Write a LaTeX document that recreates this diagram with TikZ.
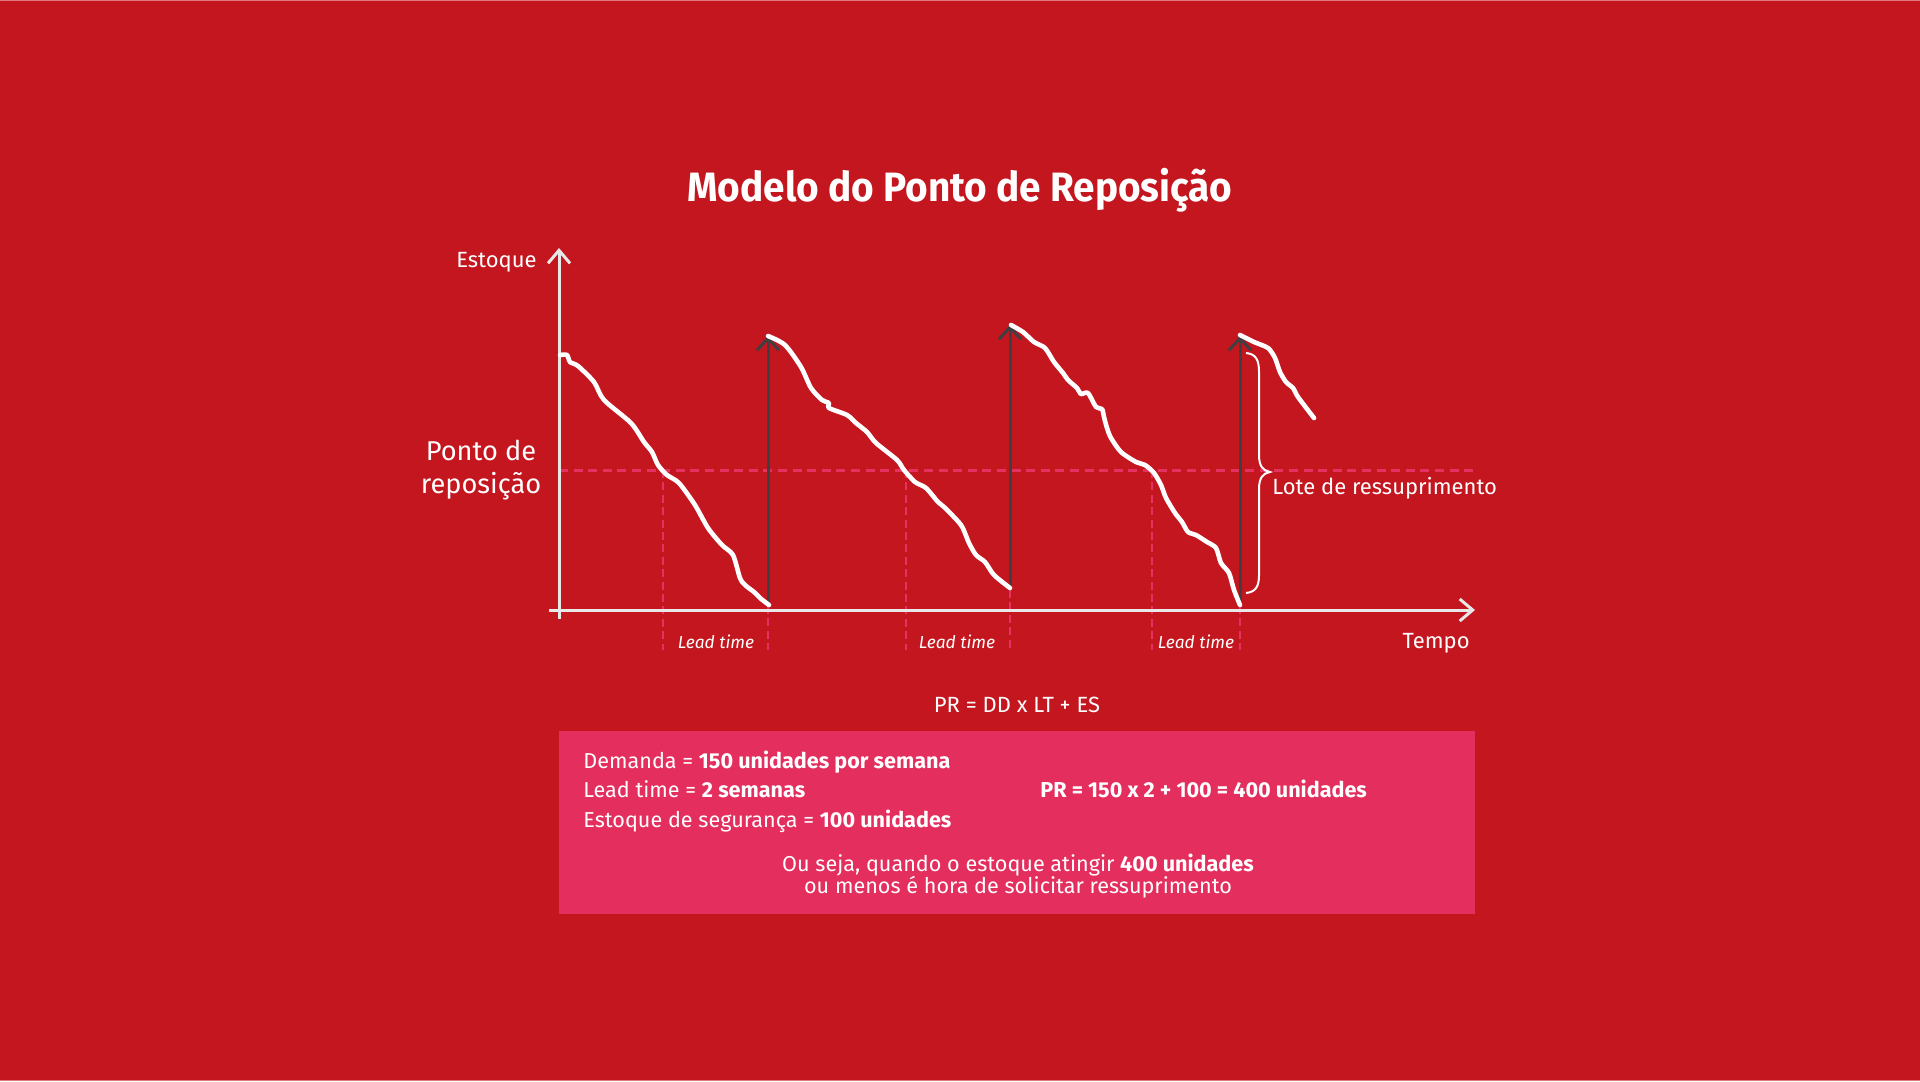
\documentclass[tikz,border=0pt]{standalone}
\usepackage{fontspec}
\setmainfont{Fira Sans}
\usetikzlibrary{arrows.meta}
\definecolor{bgc}{RGB}{196,22,30}
\definecolor{boxc}{RGB}{227,46,94}
\definecolor{dashc}{RGB}{228,50,96}
\definecolor{axisc}{RGB}{232,232,232}
\definecolor{darkc}{RGB}{64,62,64}
\definecolor{edgec}{RGB}{222,120,124}
\tikzset{
  axisline/.style={draw=axisc, line width=1.5pt, -{Straight Barb[length=6.5pt,width=11pt]}},
  supply/.style={draw=darkc, line width=1.5pt, -{Straight Barb[length=6pt,width=11pt]}},
  stockline/.style={draw=white, line width=2.3pt, line cap=round, line join=round},
  reorder/.style={draw=dashc, line width=1.5pt, dash pattern=on 4.5pt off 2.8pt},
  leadline/.style={draw=dashc, line width=1.3pt, dash pattern=on 4pt off 2.2pt},
  lbl/.style={text=white, inner sep=0pt, font=\fontsize{11}{13}\selectfont},
  leadlbl/.style={text=white, inner sep=0pt, font=\fontsize{8.7}{10}\selectfont\itshape},
  boxtxt/.style={text=white, inner sep=0pt, font=\fontsize{10.8}{12}\selectfont},
}
\begin{document}
\begin{tikzpicture}[x=0.5pt,y=-0.5pt]
\fill[bgc] (0,0) rectangle (1920,1081);
\useasboundingbox (0,0) rectangle (1920,1081);
\draw[edgec, line width=0.6pt] (0,0.6) -- (1920,0.6);
\draw[edgec, line width=0.6pt] (0,1080.4) -- (1920,1080.4);

% title
\node[text=white, inner sep=0pt, anchor=base, font=\fontsize{20.5}{24}\selectfont\bfseries] (title) at (960,201) {\scalebox{0.945}[1]{Modelo do Ponto de Reposição}};

% coordinates
\coordinate (origin) at (559,610);
\coordinate (ytop) at (559,248);
\coordinate (ybot) at (559,619);
\coordinate (xleft) at (549,610);
\coordinate (xright) at (1475,610);
\coordinate (rpL) at (559,470);
\coordinate (rpR) at (1476,470);

% reorder point line
\draw[reorder] (rpL) -- (rpR);
% lead time verticals
\foreach \xx/\yy in {663/470, 768/606, 906/470, 1010/590, 1152/470, 1240/606}{
  \draw[leadline] (\xx,\yy) -- (\xx,650);
}

% axes
\draw[axisline] (ybot) -- (ytop);
\draw[axisline] (xleft) -- (xright);

% supply arrows
\coordinate (s1b) at (768,605);
\coordinate (s1t) at (768,336);
\coordinate (s2b) at (1010,588);
\coordinate (s2t) at (1010,325);
\coordinate (s3b) at (1240,604);
\coordinate (s3t) at (1240,336);
\draw[supply] (s1b) -- (s1t);
\draw[supply] (s2b) -- (s2t);
\draw[supply] (s3b) -- (s3t);

% stock curves
\draw[stockline] plot[smooth, tension=0.45] coordinates {
 (560,355) (567,355) (570,362) (578,366) (594,382) (604,400) (631,423) (644,442)
 (652,452) (658,465) (667,475) (679,483) (695,505) (708,528) (722,545) (733,555)
 (740,578) (745,585) (754,592) (760,598) (769,605)};
\draw[stockline] plot[smooth, tension=0.45] coordinates {
 (768,336) (785,345) (801,367) (811,388) (822,400) (829,403) (829,408) (847,415)
 (856,423) (867,432) (876,443) (897,460) (904,470) (915,482) (926,488) (938,502)
 (944,507) (961,525) (969,543) (976,555) (985,562) (994,575) (1010,588)};
\draw[stockline] plot[smooth, tension=0.45] coordinates {
 (1011,325) (1023,332) (1034,342) (1045,348) (1054,362) (1063,373) (1068,380)
 (1077,388) (1081,394) (1088,393) (1096,407) (1102,409) (1104,417) (1107,428)
 (1111,438) (1121,452) (1136,462) (1145,465) (1154,473) (1161,485) (1166,498)
 (1175,513) (1182,522) (1188,532) (1196,535) (1207,542) (1216,548) (1221,563)
 (1229,573) (1234,590) (1240,605)};
\draw[stockline] plot[smooth, tension=0.45] coordinates {
 (1240,335) (1254,342) (1268,348) (1275,358) (1280,372) (1286,382) (1293,388)
 (1298,397) (1314,418)};

% brace
\draw[white, line width=1pt] (1246,353) .. controls (1256,354) and (1259,360) .. (1259,372)
  -- (1259,455) .. controls (1259,466) and (1263,471) .. (1270,472)
  .. controls (1263,473) and (1259,478) .. (1259,489)
  -- (1259,575) .. controls (1259,586) and (1256,592) .. (1246,593);

% labels
\node[lbl, anchor=base east] (estoque) at (537,267) {Estoque};
\node[lbl, anchor=base, align=center, font=\fontsize{13.6}{16.5}\selectfont] (ponto) at (481,493) {Ponto de\\reposição};
\node[lbl, anchor=base west] (lote) at (1272,494) {Lote de ressuprimento};
\node[lbl, anchor=base east] (tempo) at (1470,648) {Tempo};
\node[leadlbl, anchor=base] (lt1) at (716,648) {Lead time};
\node[leadlbl, anchor=base] (lt2) at (957,648) {Lead time};
\node[leadlbl, anchor=base] (lt3) at (1196,648) {Lead time};

% formula
\node[lbl, anchor=base] (formula) at (1017,712) {PR = DD x LT + ES};

% box
\fill[boxc] (559,731) rectangle (1475,914);
\node[boxtxt, anchor=base west] (l1) at (583,768) {Demanda = \textbf{150 unidades por semana}};
\node[boxtxt, anchor=base west] (l2) at (583,797) {Lead time = \textbf{2 semanas}};
\node[boxtxt, anchor=base west] (l3) at (583,827) {Estoque de segurança = \textbf{100 unidades}};
\node[boxtxt, anchor=base west] (pr) at (1040,797) {\textbf{PR = 150 x 2 + 100 = 400 unidades}};
\node[boxtxt, anchor=base] (b1) at (1018,871) {Ou seja, quando o estoque atingir \textbf{400 unidades}};
\node[boxtxt, anchor=base] (b2) at (1018,893) {ou menos é hora de solicitar ressuprimento};
\end{tikzpicture}
\end{document}
